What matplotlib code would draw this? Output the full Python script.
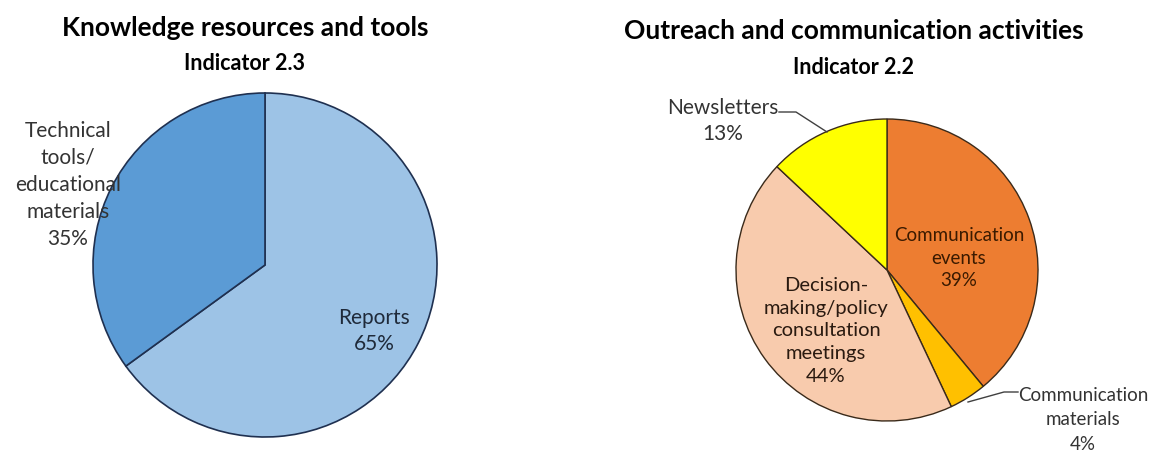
import matplotlib.pyplot as plt

plt.rcParams['font.family'] = ['Lato', 'DejaVu Sans']

# Knowledge resources and tools (Indicator 2.3)
left_labels = ["Reports", "Technical\ntools/\neducational\nmaterials"]
left_values = [65, 35]
left_colors = ["#9DC3E6", "#5B9BD5"]

# Outreach and communication activities (Indicator 2.2)
right_labels = ["Communication\nevents", "Communication\nmaterials",
                "Decision-\nmaking/policy\nconsultation\nmeetings", "Newsletters"]
right_values = [39, 4, 44, 13]
right_colors = ["#ED7D31", "#FFC000", "#F8CBAD", "#FFFF00"]

W, H = 1152, 456
fig = plt.figure(figsize=(W / 100, H / 100), dpi=100)
ax = fig.add_axes([0, 0, 1, 1])

# pies (y measured from the bottom)
ax.pie(left_values, colors=left_colors, startangle=90, counterclock=False,
       center=(265, H - 266), radius=172, frame=True,
       wedgeprops=dict(edgecolor="#1F3050", linewidth=1.2))
ax.pie(right_values, colors=right_colors, startangle=90, counterclock=False,
       center=(887, H - 271), radius=151, frame=True,
       wedgeprops=dict(edgecolor="#3A2A1A", linewidth=1.0))
ax.set_xlim(0, W)
ax.set_ylim(0, H)
ax.set_aspect('equal')
ax.axis('off')

# titles
ax.text(245, H - 28, "Knowledge resources and tools", ha='center', va='center',
        fontsize=19, fontweight='bold', color='black')
ax.text(244, H - 63, "Indicator 2.3", ha='center', va='center',
        fontsize=15.5, fontweight='bold', color='black')
ax.text(854, H - 31, "Outreach and communication activities", ha='center', va='center',
        fontsize=19, fontweight='bold', color='black')
ax.text(853, H - 67, "Indicator 2.2", ha='center', va='center',
        fontsize=15.5, fontweight='bold', color='black')

txt = "#333333"
# left labels
ax.text(68, H - 185, f"{left_labels[1]}\n{left_values[1]}%", ha='center', va='center',
        fontsize=15, color=txt, linespacing=1.45)
ax.text(374, H - 331, f"{left_labels[0]}\n{left_values[0]}%", ha='center', va='center',
        fontsize=15, color="#1F2A3A", linespacing=1.35)

# right labels
ax.text(959, H - 258, f"{right_labels[0]}\n{right_values[0]}%", ha='center', va='center',
        fontsize=13.5, color="#3A1A00", linespacing=1.4)
ax.text(826, H - 331, f"{right_labels[2]}\n{right_values[2]}%", ha='center', va='center',
        fontsize=14.5, color="#2A1A10", linespacing=1.4)
ax.text(723, H - 121, f"{right_labels[3]}\n{right_values[3]}%", ha='center', va='center',
        fontsize=15, color=txt, linespacing=1.4)
ax.text(1083, H - 420, f"{right_labels[1]}\n{right_values[1]}%", ha='center', va='center',
        fontsize=13.5, color=txt, linespacing=1.55)

# leader lines
ax.plot([1018, 1004, 968], [H - 393, H - 393, H - 403], color="#404040", lw=1)
ax.plot([779, 796, 827], [H - 113, H - 113, H - 133], color="#404040", lw=1)

fig.savefig("out.png", dpi=100)
